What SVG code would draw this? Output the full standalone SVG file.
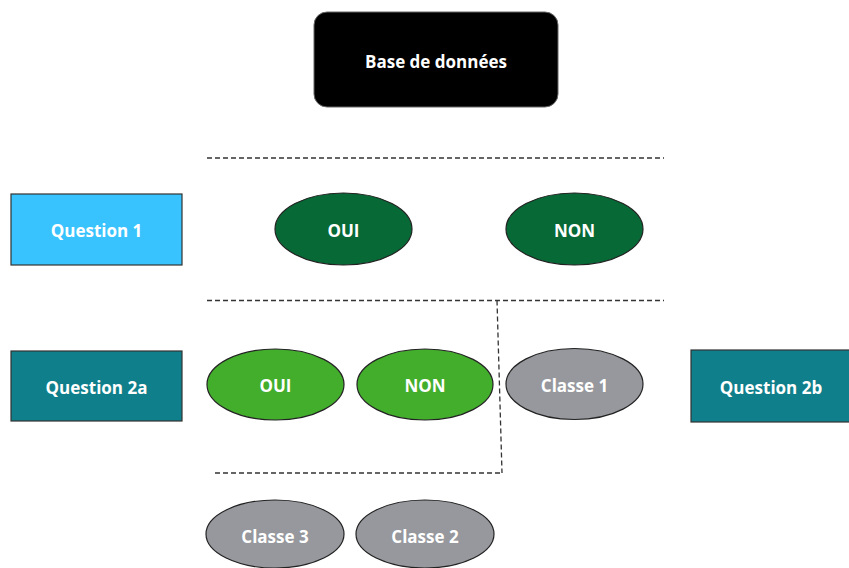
<svg xmlns="http://www.w3.org/2000/svg" width="849" height="568" viewBox="0 0 849 568">
<style>
text{font-family:"Open Sans","Liberation Sans",sans-serif;font-weight:bold;font-size:17px;fill:#fff;text-anchor:middle;dominant-baseline:central}
.dash{stroke:#333;stroke-width:1.3;stroke-dasharray:5,3;fill:none}
.box{stroke:#333;stroke-width:1.2}
.ell{stroke:#222;stroke-width:1.2}
.dg{fill:#066936}.lg{fill:#42ae2c}.gr{fill:#96989d}
</style>
<rect width="849" height="568" fill="#fff"/>
<g id="connectors">
<line class="dash" x1="207" y1="158" x2="664" y2="158"/>
<line class="dash" x1="207" y1="300.5" x2="664" y2="300.5"/>
<line class="dash" x1="497" y1="300.5" x2="502" y2="473"/>
<line class="dash" x1="215" y1="473" x2="502" y2="473"/>
</g>
<g id="base"><rect x="314" y="12" width="244" height="95" rx="13" fill="#000" stroke="#666" stroke-width="1"/><text x="436" y="61">Base de données</text></g>
<g id="q1"><rect class="box" x="11" y="194" width="171" height="71" fill="#38c3ff"/><text x="96.5" y="230">Question 1</text></g>
<g id="oui1"><ellipse class="ell dg" cx="343.5" cy="229" rx="68.5" ry="36"/><text x="343.5" y="230">OUI</text></g>
<g id="non1"><ellipse class="ell dg" cx="574.5" cy="229" rx="68.5" ry="36"/><text x="574.5" y="230">NON</text></g>
<g id="q2a"><rect class="box" x="11" y="351" width="171" height="70" fill="#0f7f8b"/><text x="96.5" y="387">Question 2a</text></g>
<g id="oui2"><ellipse class="ell lg" cx="275.5" cy="384.5" rx="68.5" ry="35.5"/><text x="275.5" y="385">OUI</text></g>
<g id="non2"><ellipse class="ell lg" cx="425" cy="384.5" rx="68" ry="35.5"/><text x="425" y="385">NON</text></g>
<g id="classe1"><ellipse class="ell gr" cx="574.5" cy="384" rx="68.5" ry="35.5"/><text x="574.5" y="385">Classe 1</text></g>
<g id="q2b"><rect class="box" x="691" y="350" width="170" height="72" fill="#0f7f8b"/><text x="771" y="387">Question 2b</text></g>
<g id="classe3"><ellipse class="ell gr" cx="275" cy="534" rx="69" ry="34"/><text x="275" y="536">Classe 3</text></g>
<g id="classe2"><ellipse class="ell gr" cx="425" cy="534" rx="69" ry="34"/><text x="425" y="536">Classe 2</text></g>
</svg>
